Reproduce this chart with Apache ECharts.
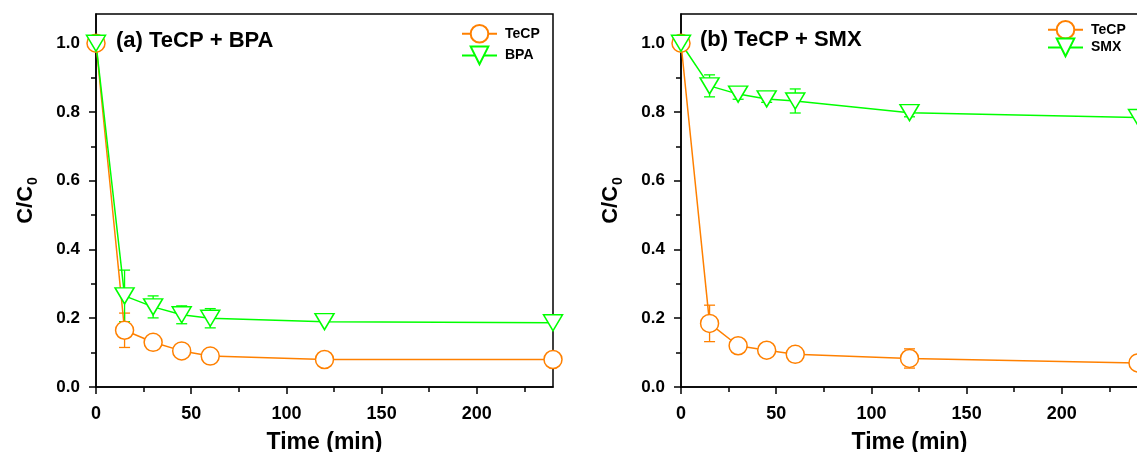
<!DOCTYPE html>
<html>
<head>
<meta charset="utf-8">
<script src="https://cdn.jsdelivr.net/npm/echarts@6/dist/echarts.min.js"></script>
<style>
html,body{margin:0;padding:0;background:#fff;}
#chart{width:1137px;height:452px;}
</style>
</head>
<body>
<div id="chart"></div>
<script>
// ---------- data ----------
const time = [0, 15, 30, 45, 60, 120, 240];

const tecpA    = [1.0, 0.165, 0.130, 0.105, 0.090, 0.080, 0.080];
const tecpAErr = [0, 0.050, 0, 0, 0, 0, 0];
const bpaA     = [1.0, 0.265, 0.233, 0.210, 0.200, 0.190, 0.187];
const bpaAErr  = [0, 0.075, 0.032, 0.026, 0.028, 0, 0];

const tecpB    = [1.0, 0.185, 0.120, 0.107, 0.095, 0.083, 0.070];
const tecpBErr = [0, 0.053, 0, 0, 0, 0.028, 0];
const smxB     = [1.0, 0.876, 0.852, 0.838, 0.832, 0.798, 0.784];
const smxBErr  = [0, 0.032, 0.015, 0.010, 0.035, 0.012, 0];

const xLabelTicks = [0, 50, 100, 150, 200];
const xMinorTicks = [25, 75, 125, 175, 225];
const yLabelTicks = [0, 0.2, 0.4, 0.6, 0.8, 1.0];
const yMinorTicks = [0.1, 0.3, 0.5, 0.7, 0.9];

const panelTitles = ['(a) TeCP + BPA', '(b) TeCP + SMX'];
const seriesNames = [['TeCP', 'BPA'], ['TeCP', 'SMX']];

// ---------- style ----------
const ORANGE = '#FF8000';
const GREEN = '#00FF00';
const FONT = 'Liberation Sans, Arial, sans-serif';

const grids = [
  {left: 96, top: 14, width: 457, height: 373, show: true, borderColor: '#000', borderWidth: 1.5,
   backgroundColor: 'transparent', containLabel: false, outerBoundsMode: 'none'},
  {left: 681, top: 14, width: 457, height: 373, show: true, borderColor: '#000', borderWidth: 1.5,
   backgroundColor: 'transparent', containLabel: false, outerBoundsMode: 'none'}
];

function mainX(g) {
  return {
    type: 'value', gridIndex: g, min: 0, max: 240, position: 'bottom',
    name: 'Time (min)', nameLocation: 'middle', nameGap: 44,
    nameTextStyle: {fontSize: 23, fontWeight: 'bold', color: '#000', fontFamily: FONT},
    axisLine: {show: true, lineStyle: {color: '#000', width: 1.5}},
    axisTick: {show: true, inside: false, length: 7, lineStyle: {color: '#000', width: 1.5}, customValues: xLabelTicks},
    axisLabel: {show: true, margin: 18, fontSize: 18, fontWeight: 'bold', color: '#000', fontFamily: FONT, customValues: xLabelTicks},
    splitLine: {show: false}
  };
}
function minorX(g) {
  return {
    type: 'value', gridIndex: g, min: 0, max: 240, position: 'bottom',
    axisLine: {show: false},
    axisTick: {show: true, inside: false, length: 5, lineStyle: {color: '#000', width: 1.5}, customValues: xMinorTicks},
    axisLabel: {show: false},
    splitLine: {show: false}
  };
}
function mainY(g) {
  return {
    type: 'value', gridIndex: g, min: 0, max: 1.085, position: 'left',
    name: '{a|C/C}{b|0}', nameLocation: 'middle', nameGap: 56, nameRotate: 90,
    nameTextStyle: {
      color: '#000', fontFamily: FONT,
      rich: {
        a: {fontSize: 22, fontWeight: 'bold', color: '#000', fontFamily: FONT, lineHeight: 28, verticalAlign: 'middle'},
        b: {fontSize: 14, fontWeight: 'bold', color: '#000', fontFamily: FONT, lineHeight: 28, verticalAlign: 'bottom', padding: [10, 0, 0, 1]}
      }
    },
    axisLine: {show: true, lineStyle: {color: '#000', width: 1.5}},
    axisTick: {show: true, inside: false, length: 7, lineStyle: {color: '#000', width: 1.5}, customValues: yLabelTicks},
    axisLabel: {show: true, margin: 16, fontSize: 17, fontWeight: 'bold', color: '#000', fontFamily: FONT,
      customValues: yLabelTicks, formatter: v => v.toFixed(1)},
    splitLine: {show: false}
  };
}
function minorY(g) {
  return {
    type: 'value', gridIndex: g, min: 0, max: 1.085, position: 'left',
    axisLine: {show: false},
    axisTick: {show: true, inside: false, length: 5, lineStyle: {color: '#000', width: 1.5}, customValues: yMinorTicks},
    axisLabel: {show: false},
    splitLine: {show: false}
  };
}

function pairs(ys) { return time.map((t, i) => [t, ys[i]]); }
function errData(ys, es) {
  const out = [];
  time.forEach((t, i) => { if (es[i] > 0) out.push([t, ys[i] - es[i], ys[i] + es[i]]); });
  return out;
}

function lineSeries(name, ys, color, shape, axisIdx) {
  const isTri = shape === 'tri';
  return {
    type: 'line', name: name, xAxisIndex: axisIdx, yAxisIndex: axisIdx,
    data: pairs(ys),
    color: color,
    symbol: isTri ? 'triangle' : 'circle',
    symbolSize: isTri ? [19, 16] : 18,
    symbolRotate: isTri ? 180 : 0,
    showAllSymbol: true,
    lineStyle: {color: color, width: 1.5},
    itemStyle: {color: '#fff', borderColor: color, borderWidth: 1.5},
    emphasis: {disabled: true},
    z: 3,
    animation: false
  };
}

function errSeries(name, ys, es, color, axisIdx) {
  return {
    type: 'custom', name: name + ' err', xAxisIndex: axisIdx, yAxisIndex: axisIdx,
    data: errData(ys, es),
    z: 2,
    silent: true,
    animation: false,
    renderItem: function (params, api) {
      const x = api.value(0);
      const lo = api.coord([x, api.value(1)]);
      const hi = api.coord([x, api.value(2)]);
      const hw = 5.5;
      const st = {stroke: color, lineWidth: 1.3};
      return {
        type: 'group',
        children: [
          {type: 'line', shape: {x1: lo[0], y1: lo[1], x2: hi[0], y2: hi[1]}, style: st},
          {type: 'line', shape: {x1: hi[0] - hw, y1: hi[1], x2: hi[0] + hw, y2: hi[1]}, style: st},
          {type: 'line', shape: {x1: lo[0] - hw, y1: lo[1], x2: lo[0] + hw, y2: lo[1]}, style: st}
        ]
      };
    }
  };
}

const legendCommon = {
  orient: 'vertical', itemWidth: 35, itemHeight: 22, padding: 0,
  textStyle: {fontSize: 14, fontWeight: 'bold', color: '#000', fontFamily: FONT, padding: [0, 0, 0, 3]},
  selectedMode: false
};

const option = {
  backgroundColor: '#fff',
  animation: false,
  title: [
    {text: panelTitles[0], left: 116, top: 30, padding: 0,
     textStyle: {fontSize: 22, fontWeight: 'bold', color: '#000', fontFamily: FONT}},
    {text: panelTitles[1], left: 700, top: 29, padding: 0,
     textStyle: {fontSize: 22, fontWeight: 'bold', color: '#000', fontFamily: FONT}}
  ],
  legend: [
    Object.assign({}, legendCommon, {data: seriesNames[0], left: 461, top: 24, itemGap: 2}),
    Object.assign({}, legendCommon, {data: seriesNames[1], left: 1047, top: 20, itemGap: -2})
  ],
  grid: grids,
  xAxis: [mainX(0), minorX(0), mainX(1), minorX(1)],
  yAxis: [mainY(0), minorY(0), mainY(1), minorY(1)],
  series: [
    errSeries('TeCP', tecpA, tecpAErr, ORANGE, 0),
    errSeries('BPA', bpaA, bpaAErr, GREEN, 0),
    lineSeries(seriesNames[0][0], tecpA, ORANGE, 'circle', 0),
    lineSeries(seriesNames[0][1], bpaA, GREEN, 'tri', 0),
    errSeries('TeCP', tecpB, tecpBErr, ORANGE, 2),
    errSeries('SMX', smxB, smxBErr, GREEN, 2),
    lineSeries(seriesNames[1][0], tecpB, ORANGE, 'circle', 2),
    lineSeries(seriesNames[1][1], smxB, GREEN, 'tri', 2)
  ]
};

const chart = echarts.init(document.getElementById('chart'), null, {renderer: 'canvas'});
chart.setOption(option);
</script>
</body>
</html>
